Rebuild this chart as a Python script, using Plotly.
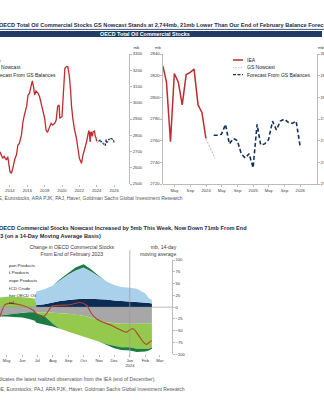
import plotly.graph_objects as go

# Drawn at twice the size and scaled down in the page, so the small print
# keeps its true size instead of being clamped by the browser's minimum font size.
S = 2
W0, H0 = 324, 400
W, H = W0 * S, H0 * S


def fx(px):
    return px / W0


def fy(py):
    return 1 - py / H0


def k(v):
    return v * S


def dash(a, b):
    return '%gpx,%gpx' % (a * S, b * S)


# ---------------- OECD total oil commercial stocks (mb) ----------------
hist_dates = ['2012-11', '2013-01', '2013-03', '2013-05', '2013-08', '2013-10',
              '2014-01', '2014-03', '2014-05', '2014-08', '2014-10', '2014-12',
              '2015-02', '2015-05', '2015-07', '2015-09', '2015-12',
              '2016-02', '2016-04', '2016-06', '2016-08', '2016-10', '2016-11',
              '2017-01', '2017-04', '2017-06', '2017-08', '2017-10',
              '2018-01', '2018-03', '2018-05', '2018-08', '2018-10', '2018-12',
              '2019-03', '2019-05', '2019-07', '2019-09', '2019-10',
              '2020-01', '2020-03', '2020-05', '2020-07', '2020-09', '2020-11',
              '2021-01', '2021-02', '2021-04', '2021-06', '2021-09', '2021-11',
              '2022-01', '2022-04', '2022-06', '2022-08', '2022-11']
hist_stocks = [2699, 2678, 2658, 2670, 2648, 2668,
               2576, 2566, 2597, 2658, 2678, 2740,
               2750, 2802, 2883, 2925, 2976,
               3048, 3058, 3099, 3134, 3089, 3048,
               3072, 3058, 3037, 2997, 2955,
               2904, 2832, 2818, 2853, 2873, 2863,
               2873, 2894, 2976, 2986, 2904,
               2914, 3048, 3212, 3222, 3222, 3171,
               3068, 2986, 2904, 2843, 2781, 2720,
               2658, 2627, 2678, 2709, 2760]

iea_dates = ['2023-01-31', '2023-02-28', '2023-03-31', '2023-04-30', '2023-05-31',
             '2023-06-30', '2023-07-31', '2023-08-31', '2023-09-30', '2023-10-31',
             '2023-11-30', '2023-12-31']
iea_stocks = [2829, 2814, 2759, 2822, 2814, 2793, 2821, 2823, 2826, 2793, 2786, 2762]

nowcast_dates = ['2023-12-31', '2024-03-10']
nowcast_stocks = [2762, 2744]

forecast_dates = ['2024-02-29', '2024-03-31', '2024-04-30', '2024-05-31', '2024-06-30',
                  '2024-07-31', '2024-08-31', '2024-09-30', '2024-10-31', '2024-11-30',
                  '2024-12-31', '2025-01-31', '2025-02-28', '2025-03-31', '2025-04-30',
                  '2025-05-31', '2025-06-30', '2025-07-31', '2025-08-31', '2025-09-30',
                  '2025-10-31', '2025-11-30', '2025-12-31']
forecast_stocks = [2765, 2765, 2766, 2775, 2757, 2762, 2760, 2748, 2744, 2748,
                   2735, 2775, 2756, 2757, 2761, 2778, 2770, 2778, 2780, 2777,
                   2776, 2778, 2755]

zoom_ticks = ['2023-05-01', '2023-09-01', '2024-01-01', '2024-05-01', '2024-09-01',
              '2025-01-01', '2025-05-01', '2025-09-01', '2026-01-01']
zoom_labels = ['May', 'Sep', '2024', 'May', 'Sep', '2025', 'May', 'Sep', '2026']

# ------------- change in OECD commercial stocks since end-Feb 2023 (mb, 14d MA) -------------
chg_dates = ['2023-04-15', '2023-05-01', '2023-05-15', '2023-06-01', '2023-06-15',
             '2023-06-26', '2023-06-29', '2023-07-15', '2023-08-01', '2023-08-15',
             '2023-09-01', '2023-09-15', '2023-10-01', '2023-10-15', '2023-11-01',
             '2023-11-15', '2023-12-01', '2023-12-15', '2024-01-01', '2024-01-15',
             '2024-02-01', '2024-02-08', '2024-02-14']
japan_products = [-2, -4, -7, -10, -14, -18, -20, -18, -6, 2, 4, 6, 7, 5, 1,
                  -2, -5, -6, -7, -7, -6, -4, -3]
us_products = [0, 0, 0, 0, 0, 0, 29, 32, 36, 44, 54, 61, 66, 58, 48,
               39, 33, 30, 29, 28, 19, 10, 7]
europe_products = [0, 0, 0, 0, 0, 0, 4, 6, 10, 13, 15, 17, 18, 18, 17,
                   16, 14, 13, 12, 11, 10, 9, 8]
oecd_crude = [-18, -16, -14, -12, -11, -11, -11, -11, -12, -13, -14, -16, -18, -22, -28,
              -32, -34, -35, -35, -35, -35, -35, -34]
other_oecd_oil = [20, 22, 22, 21, 20, 18, -2, -8, -23, -33, -38, -41, -44, -45, -45,
                  -46, -48, -50, -50, -53, -53, -53, -51]

total_dates = ['2023-04-15', '2023-04-21', '2023-04-27', '2023-05-07', '2023-05-31',
               '2023-06-22', '2023-07-06', '2023-07-16', '2023-07-30', '2023-08-15',
               '2023-09-04', '2023-09-24', '2023-10-07', '2023-10-17', '2023-10-27',
               '2023-11-09', '2023-11-26', '2023-12-09', '2023-12-19', '2023-12-26',
               '2024-01-01', '2024-01-08', '2024-01-14', '2024-01-21', '2024-01-28',
               '2024-02-04', '2024-02-07', '2024-02-14']
total_change = [-26, -10, 5, 8, 4, -6, -20, -18, 2, 4, 5, 10, 4, -14, -25,
                -32, -39, -46, -51, -53, -48, -46, -53, -64, -74, -79, -76, -71]

chg_ticks = ['2023-05-01', '2023-06-01', '2023-07-01', '2023-08-01', '2023-09-01',
             '2023-10-01', '2023-11-01', '2023-12-01', '2024-01-01', '2024-02-01',
             '2024-03-01']
chg_labels = ['May', 'Jun', 'Jul', 'Aug', 'Sep', 'Oct', 'Nov', 'Dec', 'Jan<br>2024',
              'Feb', 'Mar']

legend_names = ['Japan Products', 'US Products', 'Europe Products', 'OECD Crude',
                'Other OECD Oil', 'Total']

# ---------------- styling ----------------
NAVY = '#16305a'
TITLE_NAVY = '#1a2b47'
RED = '#bf2b2e'
NOW_GREY = '#b7c2cf'
DKGREEN = '#1b7c43'
LTBLUE = '#a9d1ec'
EUNAVY = '#0d2c55'
GREY = '#a7a7a7'
LTGREEN = '#94c94e'
TOTAL_RED = '#b0432f'
TXT = '#3a3a3a'
SANS = 'Liberation Sans, Arial, sans-serif'
TICK = dict(family=SANS, size=k(4.2), color=TXT)

fig = go.Figure()

# top-left: long history
fig.add_trace(go.Scatter(x=hist_dates + iea_dates, y=hist_stocks + iea_stocks,
                         mode='lines', line=dict(color=RED, width=k(1.3)),
                         xaxis='x', yaxis='y'))
fig.add_trace(go.Scatter(x=nowcast_dates, y=nowcast_stocks, mode='lines',
                         line=dict(color=NOW_GREY, width=k(1), dash=dash(2, 1.5)),
                         xaxis='x', yaxis='y'))
fig.add_trace(go.Scatter(x=forecast_dates, y=forecast_stocks, mode='lines',
                         line=dict(color=NAVY, width=k(1.1), dash=dash(3, 1.5)),
                         xaxis='x', yaxis='y'))

# top-right: recent months and forecast
fig.add_trace(go.Scatter(x=iea_dates, y=iea_stocks, mode='lines',
                         line=dict(color=RED, width=k(1.5)), xaxis='x2', yaxis='y2'))
fig.add_trace(go.Scatter(x=nowcast_dates, y=nowcast_stocks, mode='lines',
                         line=dict(color=NOW_GREY, width=k(1.1), dash=dash(2, 1.5)),
                         xaxis='x2', yaxis='y2'))
fig.add_trace(go.Scatter(x=forecast_dates, y=forecast_stocks, mode='lines',
                         line=dict(color=NAVY, width=k(1.6), dash=dash(4, 2.5)),
                         xaxis='x2', yaxis='y2'))
# invisible trace so the mirrored right axis is drawn
fig.add_trace(go.Scatter(x=forecast_dates, y=forecast_stocks, mode='lines',
                         line=dict(width=0), opacity=0, hoverinfo='skip',
                         xaxis='x2', yaxis='y3'))


# bottom: stacked changes, positive and negative parts stacked separately
def stack(series_list, positive):
    base = [0.0] * len(chg_dates)
    out = []
    for vals, color in series_list:
        part = [max(v, 0) if positive else min(v, 0) for v in vals]
        top = [b + p for b, p in zip(base, part)]
        out.append((base, top, color))
        base = top
    return out


bands = stack([(other_oecd_oil, LTGREEN), (europe_products, EUNAVY),
               (us_products, LTBLUE), (japan_products, DKGREEN)], True)
bands += stack([(oecd_crude, GREY), (other_oecd_oil, LTGREEN),
                (japan_products, DKGREEN)], False)
for base, top, color in bands:
    fig.add_trace(go.Scatter(x=chg_dates + chg_dates[::-1], y=top + base[::-1],
                             mode='lines', fill='toself', fillcolor=color,
                             line=dict(width=0), xaxis='x3', yaxis='y4'))
fig.add_trace(go.Scatter(x=total_dates, y=total_change, mode='lines',
                         line=dict(color=TOTAL_RED, width=k(1.1), shape='spline',
                                   smoothing=0.6),
                         xaxis='x3', yaxis='y4'))

# bottom legend column (clipped to its own strip)
legend_rows = [266, 273.4, 281.2, 288.5, 295.8, 302.8]
legend_colors = [DKGREEN, LTBLUE, EUNAVY, GREY, LTGREEN, TOTAL_RED]
fig.add_trace(go.Scatter(x=[-1] * 6, y=legend_rows, mode='markers',
                         marker=dict(symbol='square', size=k(4), color=legend_colors),
                         cliponaxis=True, xaxis='x4', yaxis='y5'))
fig.add_trace(go.Scatter(x=[4.4] * 6, y=legend_rows, mode='text', text=legend_names,
                         textposition='middle right',
                         textfont=dict(family=SANS, size=k(4.4), color='#222'),
                         cliponaxis=True, xaxis='x4', yaxis='y5'))

axis_common = dict(showgrid=False, zeroline=False, automargin=False,
                   tickfont=TICK, ticks='outside', ticklen=k(2), tickwidth=k(0.6),
                   tickcolor='#777', linecolor='#777', linewidth=k(0.7))

layout = dict(
    width=W, height=H, margin=dict(l=0, r=0, t=0, b=0),
    paper_bgcolor='white', plot_bgcolor='rgba(0,0,0,0)',
    showlegend=False, template='none',
    xaxis=dict(domain=[0, fx(129.3)], type='date',
               range=['2012-11-07', '2027-10-05'], tick0='2012-01-01', dtick='M24',
               tickformat='%Y', showline=False, anchor='y', **axis_common),
    yaxis=dict(domain=[fy(184), fy(54)], range=[2500, 3300], dtick=100, side='right',
               anchor='x', showline=True, **axis_common),
    xaxis2=dict(domain=[fx(163), fx(317)], type='date',
                range=['2023-02-01', '2026-05-11'], tickvals=zoom_ticks,
                ticktext=zoom_labels, showline=True, anchor='y2', **axis_common),
    yaxis2=dict(domain=[fy(184), fy(54)], range=[2720, 2840], dtick=20, side='left',
                anchor='x2', showline=True, **axis_common),
    yaxis3=dict(range=[2720, 2840], dtick=20, side='right', overlaying='y2',
                anchor='x2', showline=True, **axis_common),
    xaxis3=dict(domain=[0, fx(172)], type='date',
                range=['2023-04-17 16:00', '2024-03-25'], tickvals=chg_ticks,
                ticktext=chg_labels, showline=False, anchor='y4', **axis_common),
    yaxis4=dict(domain=[fy(354.3), fy(260)], range=[-100, 100], dtick=25,
                side='right', anchor='x3', showline=True, **axis_common),
    xaxis4=dict(domain=[fx(9), fx(45)], range=[9, 45], visible=False, anchor='y5'),
    yaxis5=dict(domain=[fy(308), fy(260)], range=[308, 260], visible=False,
                anchor='x4'),
)
fig.update_layout(**layout)

shapes = [
    # rule under the headline and the section bar
    dict(type='line', xref='paper', yref='paper', x0=0, x1=1, y0=fy(29.4), y1=fy(29.4),
         line=dict(color=TITLE_NAVY, width=k(0.8))),
    dict(type='rect', xref='paper', yref='paper', x0=0, x1=fx(322), y0=fy(37),
         y1=fy(31), fillcolor='#213c64', line=dict(width=0)),
    # zero line and latest IEA observation marker on the bottom chart
    dict(type='line', xref='paper', yref='y4', x0=0, x1=fx(172), y0=0, y1=0,
         line=dict(color='#8a8a8a', width=k(0.6)), layer='above'),
    dict(type='line', xref='x3', yref='paper', x0='2024-01-01', x1='2024-01-01',
         y0=fy(357), y1=fy(250), line=dict(color='#9a9a9a', width=k(0.7)),
         layer='above'),
]

annotations = []


def note(text, x, y, size=4.6, color=TXT, xanchor='left', align='left'):
    annotations.append(dict(text=text, x=fx(x), y=fy(y), xref='paper', yref='paper',
                            xanchor=xanchor, yanchor='middle', showarrow=False,
                            align=align, borderpad=0,
                            font=dict(family=SANS, size=k(size), color=color)))


def line_legend(x_line, x_text, ys):
    specs = [('IEA', RED, None, 1.5), ('GS Nowcast', NOW_GREY, dash(1.5, 1), 1.0),
             ('Forecast From GS Balances', NAVY, dash(3, 1.5), 1.4)]
    for (name, color, pattern, width), y in zip(specs, ys):
        ln = dict(color=color, width=k(width))
        if pattern:
            ln['dash'] = pattern
        shapes.append(dict(type='line', xref='paper', yref='paper',
                           x0=fx(x_line), x1=fx(x_line + 10), y0=fy(y), y1=fy(y),
                           line=ln))
        note(name, x_text, y, size=5.0, color='#222')


line_legend(-21, -7.8, [60, 67.4, 74.8])
line_legend(233, 246.7, [60, 67.4, 74.6])

note('<b>OECD Total Oil Commercial Stocks GS Nowcast Stands at 2,744mb, 21mb Lower '
     'Than Our End of February Balance Forecast</b>', -1.5, 24.3, size=5.6,
     color=TITLE_NAVY)
note('<b>OECD Total Oil Commercial Stocks</b>', 145, 34, size=5.4, color='white',
     xanchor='center')
note('mb', 133, 47, size=4.2)
note('mb', 158, 47, size=4.2, xanchor='center')
note('mb', 321, 47, size=4.2, xanchor='center')
note('Source: IEA, DOE, Eurostocks, ARA PJK, PAJ, Haver, Goldman Sachs Global '
     'Investment Research', 183, 198, size=5.0, color='#555', xanchor='right')

note('<b>OECD Commercial Stocks Nowcast Increased by 5mb This Week, Now Down 71mb '
     'From End</b>', -1.5, 227.5, size=5.6, color=TITLE_NAVY)
note('<b>of February 2023 (on a 14-Day Moving Average Basis)</b>', 101.5, 235.8,
     size=5.6, color=TITLE_NAVY, xanchor='right')
note('Change in OECD Commercial Stocks<br>From End of February 2023', 71.7, 250.3,
     size=5.1, xanchor='center', align='center')
note('mb, 14-day<br>moving average', 177, 250.3, size=5.1, xanchor='right',
     align='right')
note('Note: Vertical line indicates the latest realized observation from the IEA '
     '(end of December).', 156, 378.5, size=5.0, color='#555', xanchor='right')
note('Source: IEA, DOE, Eurostocks, PAJ, ARA PJK, Haver, Goldman Sachs Global '
     'Investment Research', 185, 389.3, size=5.0, color='#555', xanchor='right')

fig.update_layout(shapes=shapes, annotations=annotations)

shrink = ("var gd=document.getElementById('{plot_id}');"
          "gd.style.transformOrigin='0 0';"
          "gd.style.transform='scale(%g)';"
          "document.documentElement.style.overflow='hidden';"
          "document.body.style.overflow='hidden';"
          "document.body.style.margin='0';" % (1.0 / S))
fig.write_html('out.html', post_script=shrink)
